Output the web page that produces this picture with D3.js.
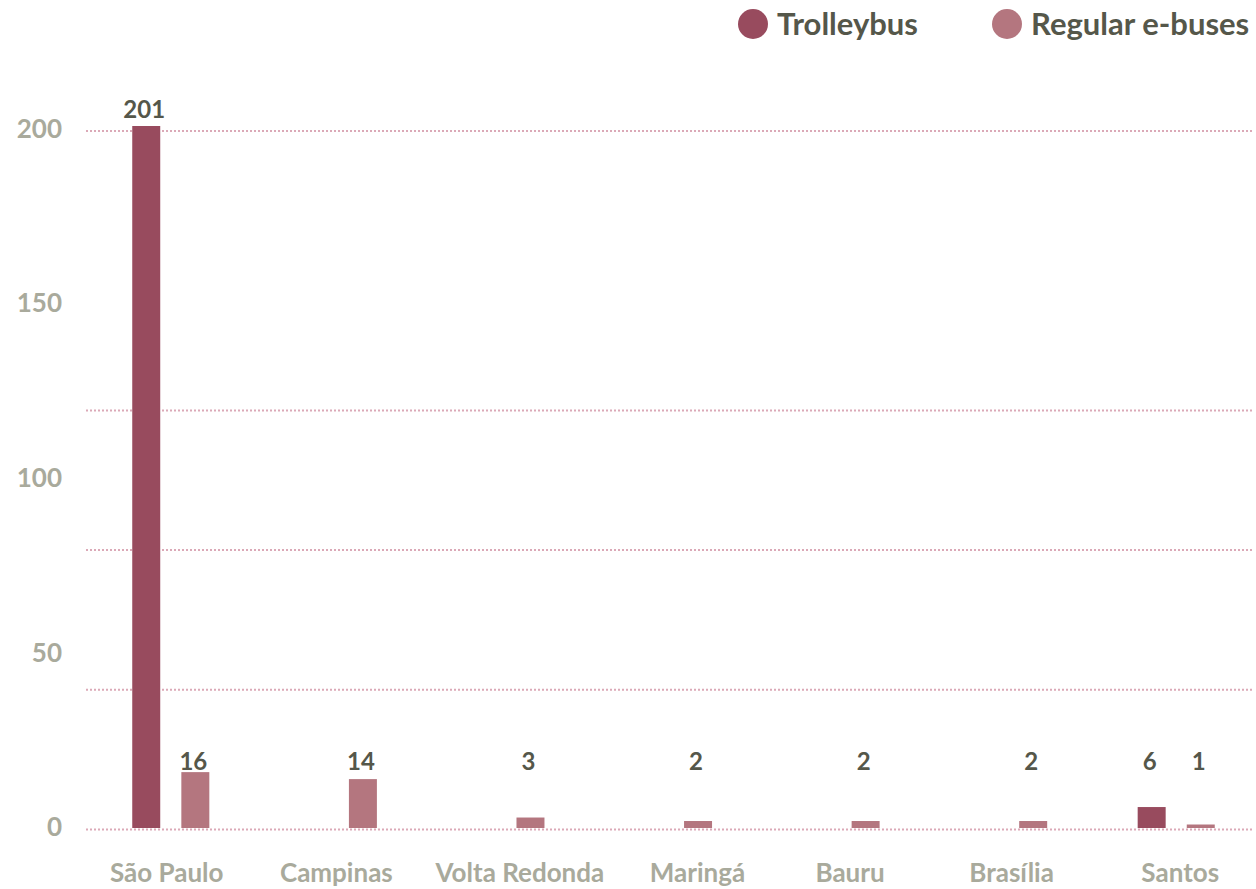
<!DOCTYPE html>
<html>
<head>
<meta charset="utf-8">
<script src="https://cdn.jsdelivr.net/npm/d3@7"></script>
<style>
  html, body { margin: 0; padding: 0; background: #ffffff; }
  svg { display: block; font-family: Lato, "Noto Sans", sans-serif; }
</style>
</head>
<body>
<svg id="chart" width="1256" height="889"></svg>
<script>
// Electric bus fleet by city
const cities = ["São Paulo", "Campinas", "Volta Redonda", "Maringá", "Bauru", "Brasília", "Santos"];
const seriesNames = ["Trolleybus", "Regular e-buses"];
const trolleybus = [201, null, null, null, null, null, 6];
const regularEbuses = [16, 14, 3, 2, 2, 2, 1];
const yTicks = [0, 50, 100, 150, 200];
const gridValues = [0, 40, 80, 120, 200];

const colors = { "Trolleybus": "#984b5e", "Regular e-buses": "#b4767f" };
// horizontal nudges for the city names under each group
const cityLabelNudge = [-4, -2, 14, 24, 9, 3, 4];

const svg = d3.select("#chart");
const plotLeft = 87, plotRight = 1260;

const x0 = d3.scaleBand().domain(cities).range([plotLeft, plotRight])
  .paddingInner(0.54).paddingOuter(0.27);
const x1 = d3.scaleBand().domain(seriesNames).range([0, x0.bandwidth()])
  .paddingInner(0.43);
const y = d3.scaleLinear().domain([0, 201]).range([828, 126]);

// dotted grid
svg.append("g").selectAll("line").data(gridValues).join("line")
  .attr("x1", 86).attr("x2", 1252)
  .attr("y1", d => y(d) + 1.5).attr("y2", d => y(d) + 1.5)
  .attr("stroke", "#dba9b7").attr("stroke-width", 2)
  .attr("stroke-dasharray", "2,2");

// y tick labels
svg.append("g").selectAll("text").data(yTicks).join("text")
  .attr("x", 62).attr("y", d => y(d) - 1)
  .attr("dy", "0.36em")
  .attr("text-anchor", "end")
  .attr("fill", "#a9aa9c").attr("font-size", 26).attr("font-weight", 700)
  .text(d => d);

const rows = [];
cities.forEach((c, i) => {
  rows.push({ city: c, series: "Trolleybus", value: trolleybus[i] });
  rows.push({ city: c, series: "Regular e-buses", value: regularEbuses[i] });
});
const present = rows.filter(d => d.value != null);

svg.append("g").selectAll("rect").data(present).join("rect")
  .attr("x", d => x0(d.city) + x1(d.series))
  .attr("width", x1.bandwidth())
  .attr("y", d => y(d.value))
  .attr("height", d => y(0) - y(d.value))
  .attr("fill", d => colors[d.series]);

// value labels: short bars share one label row, tall bars get theirs on top
const labelRow = y(0) - 58;
svg.append("g").selectAll("text").data(present).join("text")
  .attr("x", d => x0(d.city) + x1(d.series) + x1.bandwidth() / 2 - 2)
  .attr("y", d => d.value < gridValues[1] ? labelRow : y(d.value) - 8)
  .attr("text-anchor", "middle")
  .attr("fill", "#55574a").attr("font-size", 24).attr("font-weight", 700)
  .text(d => d.value);

// category labels
svg.append("g").selectAll("text").data(cities).join("text")
  .attr("x", (d, i) => x0(d) + x0.bandwidth() / 2 + cityLabelNudge[i])
  .attr("y", 882)
  .attr("text-anchor", "middle")
  .attr("fill", "#a9aa9c").attr("font-size", 26).attr("font-weight", 700)
  .text(d => d);

// legend
const legendX = [753, 1007];
const legend = svg.append("g").selectAll("g").data(seriesNames).join("g")
  .attr("transform", (d, i) => `translate(${legendX[i]},24)`);
legend.append("circle").attr("r", 15).attr("fill", d => colors[d]);
legend.append("text").attr("x", 24).attr("dy", "0.36em")
  .attr("fill", "#55574a").attr("font-size", 31).attr("font-weight", 700)
  .text(d => d);
</script>
</body>
</html>
